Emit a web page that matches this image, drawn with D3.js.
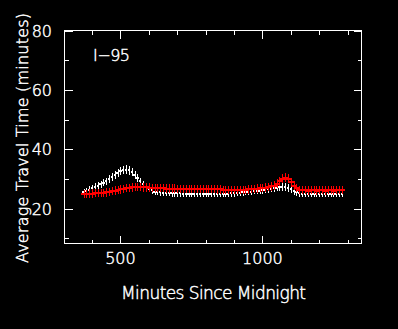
<!DOCTYPE html>
<html>
<head>
<meta charset="utf-8">
<script src="https://cdn.jsdelivr.net/npm/d3@7"></script>
<style>
  body { margin: 0; background: #000; }
  text { font-family: "DejaVu Sans", sans-serif; font-weight: 200; fill: #fff; stroke: #fff; stroke-width: 0.45px; }
</style>
</head>
<body>
<div id="chart"></div>
<script>
// minutes since midnight, one sample every 10 minutes
const minutes = [
  370, 380, 390, 400, 410, 420, 430, 440, 450, 460, 470, 480, 490, 500, 510, 520,
  530, 540, 550, 560, 570, 580, 590, 600, 610, 620, 630, 640, 650, 660, 670, 680,
  690, 700, 710, 720, 730, 740, 750, 760, 770, 780, 790, 800, 810, 820, 830, 840,
  850, 860, 870, 880, 890, 900, 910, 920, 930, 940, 950, 960, 970, 980, 990, 1000,
  1010, 1020, 1030, 1040, 1050, 1060, 1070, 1080, 1090, 1100, 1110, 1120, 1130, 1140,
  1150, 1160, 1170, 1180, 1190, 1200, 1210, 1220, 1230, 1240, 1250, 1260, 1270, 1280
];

// white series
const whiteMean = [
  25.6, 26.0, 26.4, 26.9, 27.3, 27.8, 28.2, 28.7, 29.3, 29.9, 30.6, 31.4, 32.1, 32.7, 33.1, 33.2,
  32.9, 32.3, 31.4, 30.3, 29.2, 28.2, 27.4, 26.7, 26.2, 25.8, 25.6, 25.5, 25.4, 25.3, 25.3, 25.2,
  25.2, 25.2, 25.2, 25.1, 25.1, 25.1, 25.1, 25.1, 25.1, 25.1, 25.1, 25.1, 25.1, 25.1, 25.1, 25.1,
  25.1, 25.1, 25.1, 25.1, 25.2, 25.2, 25.3, 25.4, 25.5, 25.6, 25.7, 25.8, 25.9, 26.0, 26.1, 26.2,
  26.3, 26.5, 26.7, 26.9, 27.1, 27.3, 27.4, 27.4, 27.1, 26.5, 25.9, 25.5, 25.2, 25.1,
  25.1, 25.1, 25.1, 25.1, 25.1, 25.1, 25.1, 25.1, 25.1, 25.1, 25.1, 25.1, 25.1, 25.1
];
const whiteErr = [
  1.1, 1.1, 1.1, 1.1, 1.2, 1.2, 1.2, 1.2, 1.2, 1.3, 1.3, 1.3, 1.3, 1.4, 1.4, 1.4,
  1.4, 1.4, 1.3, 1.3, 1.3, 1.2, 1.2, 1.2, 1.1, 1.1, 1.1, 1.1, 1.1, 1.1, 1.1, 1.1,
  1.1, 1.1, 1.1, 1.1, 1.1, 1.1, 1.1, 1.1, 1.1, 1.1, 1.1, 1.1, 1.1, 1.1, 1.1, 1.1,
  1.1, 1.1, 1.1, 1.1, 1.1, 1.1, 1.1, 1.1, 1.1, 1.1, 1.1, 1.1, 1.1, 1.1, 1.1, 1.1,
  1.1, 1.1, 1.2, 1.2, 1.2, 1.3, 1.3, 1.3, 1.3, 1.2, 1.2, 1.1, 1.1, 1.1,
  1.1, 1.1, 1.1, 1.1, 1.1, 1.1, 1.1, 1.1, 1.1, 1.1, 1.1, 1.1, 1.1, 1.1
];

// red series
const redMean = [
  25.0, 25.0, 25.1, 25.1, 25.2, 25.2, 25.3, 25.4, 25.5, 25.7, 25.9, 26.1, 26.3, 26.5, 26.7, 26.9,
  27.0, 27.2, 27.3, 27.3, 27.3, 27.2, 27.2, 27.1, 27.0, 27.0, 26.9, 26.9, 26.9, 26.8, 26.8, 26.8,
  26.8, 26.7, 26.7, 26.7, 26.7, 26.7, 26.7, 26.7, 26.7, 26.7, 26.7, 26.7, 26.7, 26.6, 26.6, 26.5,
  26.5, 26.4, 26.3, 26.3, 26.2, 26.2, 26.2, 26.2, 26.3, 26.4, 26.5, 26.6, 26.7, 26.8, 26.9, 27.0,
  27.1, 27.3, 27.5, 27.8, 28.4, 29.3, 30.1, 30.5, 30.1, 29.0, 27.8, 26.9, 26.4, 26.2,
  26.2, 26.1, 26.2, 26.2, 26.1, 26.2, 26.2, 26.1, 26.2, 26.2, 26.1, 26.2, 26.2, 26.2
];
const redErr = [
  1.4, 1.4, 1.4, 1.4, 1.4, 1.4, 1.4, 1.4, 1.4, 1.4, 1.4, 1.4, 1.4, 1.4, 1.4, 1.4,
  1.4, 1.4, 1.4, 1.4, 1.4, 1.4, 1.4, 1.4, 1.4, 1.4, 1.4, 1.4, 1.4, 1.4, 1.4, 1.4,
  1.4, 1.4, 1.4, 1.4, 1.4, 1.4, 1.4, 1.4, 1.4, 1.4, 1.4, 1.4, 1.4, 1.4, 1.4, 1.4,
  1.4, 1.4, 1.4, 1.4, 1.4, 1.4, 1.4, 1.4, 1.4, 1.4, 1.4, 1.4, 1.4, 1.4, 1.4, 1.4,
  1.4, 1.4, 1.4, 1.4, 1.5, 1.5, 1.5, 1.5, 1.5, 1.5, 1.5, 1.4, 1.4, 1.4,
  1.4, 1.4, 1.4, 1.4, 1.4, 1.4, 1.4, 1.4, 1.4, 1.4, 1.4, 1.4, 1.4, 1.4
];

const xMajor = [500, 1000];
const xMinor = [400, 600, 700, 800, 900, 1100, 1200, 1300];
const yMajor = [20, 40, 60, 80];
const yMinor = [10, 30, 50, 70];

const W = 398, H = 329;
const box = {left: 64.5, right: 361.5, top: 30.5, bottom: 243.5};

const svg = d3.select("#chart").append("svg")
    .attr("width", W)
    .attr("height", H)
    .style("background", "#000");

const x = d3.scaleLinear().domain([303, 1349]).range([box.left, box.right]);
const y = d3.scaleLinear().domain([8.3, 80]).range([box.bottom, box.top]);

// frame
svg.append("rect")
    .attr("x", box.left).attr("y", box.top)
    .attr("width", box.right - box.left).attr("height", box.bottom - box.top)
    .attr("fill", "none").attr("stroke", "#fff").attr("stroke-width", 1);

// ticks on all four sides, pointing inward
function ticks(g, scale, values, len, orient) {
    g.selectAll("line." + orient + len)
        .data(values)
        .enter().append("line")
        .attr("stroke", "#fff")
        .attr("shape-rendering", "crispEdges")
        .each(function (d) {
            let s = d3.select(this), p = Math.round(scale(d)) + 0.5;
            if (orient == "bottom") s.attr("x1", p).attr("x2", p).attr("y1", box.bottom).attr("y2", box.bottom - len);
            if (orient == "top") s.attr("x1", p).attr("x2", p).attr("y1", box.top).attr("y2", box.top + len);
            if (orient == "left") s.attr("y1", p).attr("y2", p).attr("x1", box.left).attr("x2", box.left + len);
            if (orient == "right") s.attr("y1", p).attr("y2", p).attr("x1", box.right).attr("x2", box.right - len);
        });
}
let tg = svg.append("g");
["bottom", "top"].forEach(o => { ticks(tg, x, xMajor, 8, o); ticks(tg, x, xMinor, 4, o); });
["left", "right"].forEach(o => { ticks(tg, y, yMajor, 8, o); ticks(tg, y, yMinor, 4, o); });

// tick labels
svg.selectAll(".xlab")
    .data(xMajor)
    .enter().append("text")
    .attr("x", d => x(d))
    .attr("y", 264)
    .attr("text-anchor", "middle")
    .style("font-size", "16px")
    .text(d => d);

svg.selectAll(".ylab")
    .data(yMajor)
    .enter().append("text")
    .attr("x", 52)
    .attr("y", d => y(d) + 6)
    .attr("text-anchor", "end")
    .style("font-size", "16px")
    .text(d => d);

// axis titles
svg.append("text")
    .attr("x", 121).attr("y", 299)
    .attr("textLength", 185)
    .style("font-size", "17px")
    .text("Minutes Since Midnight");

svg.append("text")
    .attr("transform", "translate(27.5,263) rotate(-90)")
    .attr("textLength", 250)
    .style("font-size", "16px")
    .text("Average Travel Time (minutes)");

svg.append("text")
    .attr("x", 93).attr("y", 61)
    .attr("textLength", 37)
    .style("font-size", "16px")
    .text("I\u221295");

// series with error bars
function series(mean, err, color, halfWidth) {
    let pts = minutes.map((m, i) => ({m: m, v: mean[i], e: err[i]}));
    let g = svg.append("g").attr("stroke", color).attr("shape-rendering", "crispEdges");
    g.selectAll(".h")
        .data(pts)
        .enter().append("line")
        .attr("x1", d => x(d.m - halfWidth))
        .attr("x2", d => x(d.m + halfWidth))
        .attr("y1", d => y(d.v))
        .attr("y2", d => y(d.v))
        .attr("stroke-width", 2);
    g.selectAll(".v")
        .data(pts)
        .enter().append("line")
        .attr("x1", d => Math.round(x(d.m)) + 0.5)
        .attr("x2", d => Math.round(x(d.m)) + 0.5)
        .attr("y1", d => y(d.v - d.e))
        .attr("y2", d => y(d.v + d.e))
        .attr("stroke-width", 1);
}
series(whiteMean, whiteErr, "#fff", 4);
series(redMean, redErr, "red", 10);
</script>
</body>
</html>
